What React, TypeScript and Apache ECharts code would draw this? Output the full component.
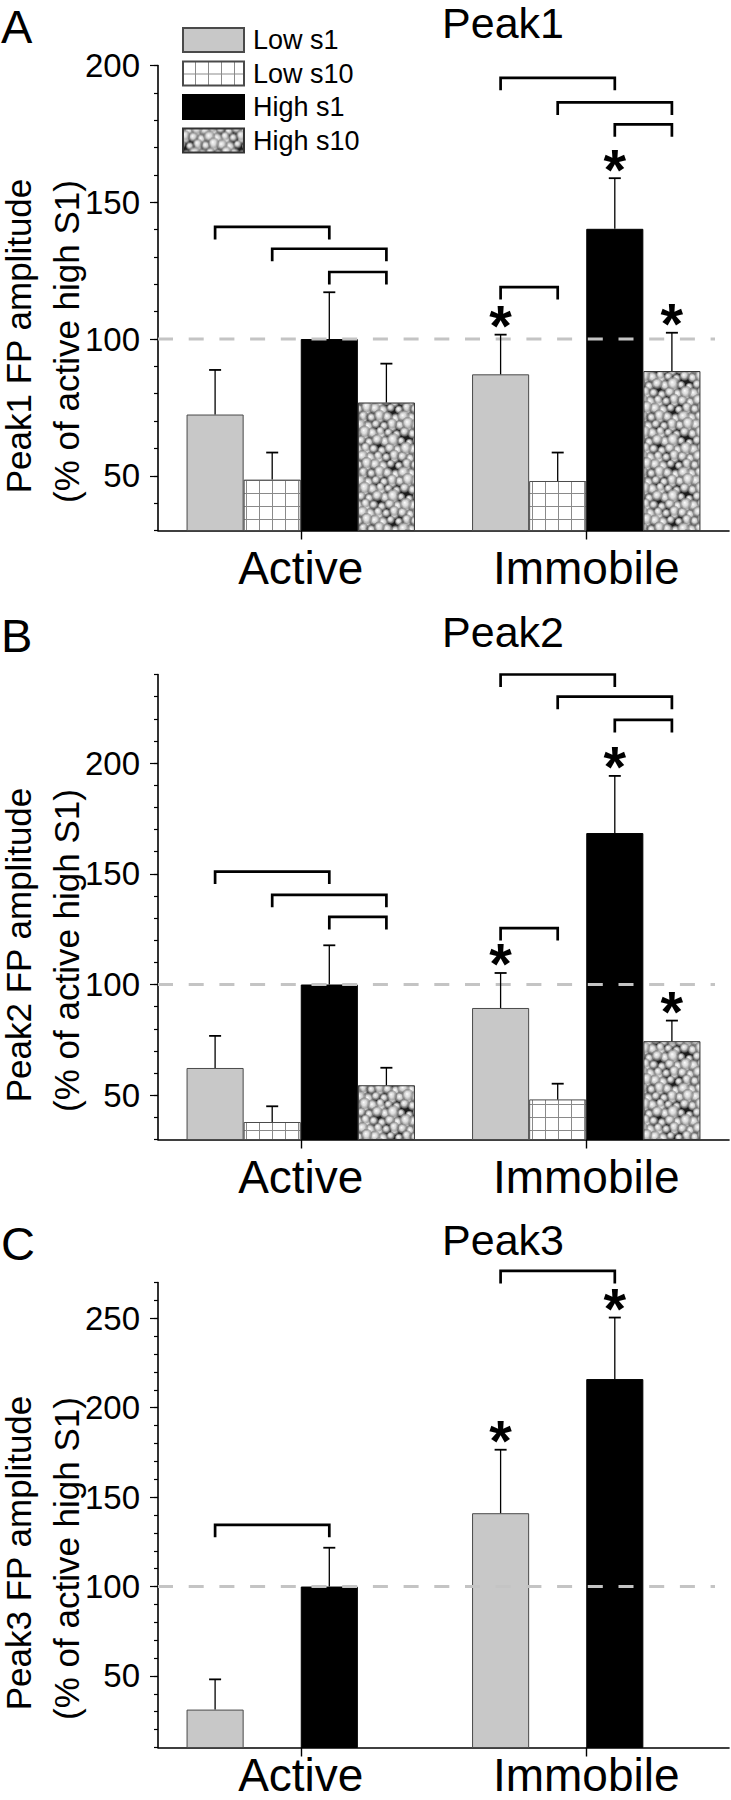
import React, { useEffect, useRef } from 'react';
import * as echarts from 'echarts';

const FONT = '"Liberation Sans", Arial, Helvetica, sans-serif';

const categories = ['Active', 'Immobile'];
const groupNames = ['Low s1', 'Low s10', 'High s1', 'High s10'];

// ---- Peak1 (panel A) ----
const peak1LowS1 = [72.4, 87.1];
const peak1LowS1Sem = [16.3, 14.5];
const peak1LowS10 = [48.6, 48.1];
const peak1LowS10Sem = [9.9, 10.4];
const peak1HighS1 = [100, 140.3];
const peak1HighS1Sem = [17.1, 18.5];
const peak1HighS10 = [76.8, 88.3];
const peak1HighS10Sem = [14.2, 14.0];
// [category, fromSlot, toSlot, bracket height]
const peak1Brackets = [[0, 0, 2, 141], [0, 1, 3, 133], [0, 2, 3, 124.5], [1, 0, 2, 195.5], [1, 1, 3, 186.5], [1, 2, 3, 178.5], [1, 0, 1, 119]];
const peak1Stars = [[1, 0], [1, 2], [1, 3]];
const peak1YRange = [30, 200];
const peak1YLabels = [50, 100, 150, 200];

// ---- Peak2 (panel B) ----
const peak2LowS1 = [62.3, 89.4];
const peak2LowS1Sem = [14.5, 15.8];
const peak2LowS10 = [37.9, 48.1];
const peak2LowS10Sem = [7.1, 7.1];
const peak2HighS1 = [100, 168.4];
const peak2HighS1Sem = [17.7, 25.8];
const peak2HighS10 = [54.5, 74.4];
const peak2HighS10Sem = [7.9, 9.3];
const peak2Brackets = [[0, 0, 2, 151], [0, 1, 3, 140.5], [0, 2, 3, 130.5], [1, 0, 2, 240], [1, 1, 3, 230], [1, 2, 3, 219.5], [1, 0, 1, 125.5]];
const peak2Stars = [[1, 0], [1, 2], [1, 3]];
const peak2YRange = [30, 240];
const peak2YLabels = [50, 100, 150, 200];

// ---- Peak3 (panel C) ----
const peak3LowS1 = [31.2, 141];
const peak3LowS1Sem = [16.9, 35.5];
const peak3LowS10 = [null, null];
const peak3LowS10Sem = [null, null];
const peak3HighS1 = [100, 216];
const peak3HighS1Sem = [21.7, 34.4];
const peak3HighS10 = [null, null];
const peak3HighS10Sem = [null, null];
const peak3Brackets = [[0, 0, 2, 134.5], [1, 0, 2, 276.5]];
const peak3Stars = [[1, 0], [1, 2]];
const peak3YRange = [10, 270];
const peak3YLabels = [50, 100, 150, 200, 250];

const referenceLevel = 100;

const panels = [
  {
    letter: 'A', title: 'Peak1', yTitle: 'Peak1 FP amplitude',
    means: [peak1LowS1, peak1LowS10, peak1HighS1, peak1HighS10],
    sems: [peak1LowS1Sem, peak1LowS10Sem, peak1HighS1Sem, peak1HighS10Sem],
    brackets: peak1Brackets, stars: peak1Stars, range: peak1YRange, labels: peak1YLabels,
    offset: 0, labelMargin: 14, labelLineHeight: 46,
  },
  {
    letter: 'B', title: 'Peak2', yTitle: 'Peak2 FP amplitude',
    means: [peak2LowS1, peak2LowS10, peak2HighS1, peak2HighS10],
    sems: [peak2LowS1Sem, peak2LowS10Sem, peak2HighS1Sem, peak2HighS10Sem],
    brackets: peak2Brackets, stars: peak2Stars, range: peak2YRange, labels: peak2YLabels,
    offset: 609, labelMargin: 14, labelLineHeight: 46,
  },
  {
    letter: 'C', title: 'Peak3', yTitle: 'Peak3 FP amplitude',
    means: [peak3LowS1, peak3LowS10, peak3HighS1, peak3HighS10],
    sems: [peak3LowS1Sem, peak3LowS10Sem, peak3HighS1Sem, peak3HighS10Sem],
    brackets: peak3Brackets, stars: peak3Stars, range: peak3YRange, labels: peak3YLabels,
    offset: 1217, labelMargin: 8, labelLineHeight: 38,
  },
];

function makeGridPattern() {
  const c = document.createElement('canvas');
  c.width = 13; c.height = 13;
  const g = c.getContext('2d')!;
  g.fillStyle = '#ffffff';
  g.fillRect(0, 0, 13, 13);
  g.fillStyle = '#8a8a8a';
  g.fillRect(12, 0, 1, 13);
  g.fillRect(0, 12, 13, 1);
  return c;
}

// bubbly texture, laid out with a low-discrepancy (R2) sequence
function makeBubblePattern() {
  const S = 56;
  const c = document.createElement('canvas');
  c.width = S; c.height = S;
  const g = c.getContext('2d')!;
  g.fillStyle = '#1c1c1c';
  g.fillRect(0, 0, S, S);
  const a1 = 0.7548776662, a2 = 0.5698402910;
  const n = 62;
  for (let i = 0; i < n; i++) {
    const px = ((0.5 + a1 * i) % 1) * S;
    const py = ((0.5 + a2 * i) % 1) * S;
    const r = 4.4 + ((i * 0.618034) % 1) * 2.4;
    for (let dx = -S; dx <= S; dx += S) {
      for (let dy = -S; dy <= S; dy += S) {
        const x = px + dx, y = py + dy;
        if (x < -r || x > S + r || y < -r || y > S + r) continue;
        const grd = g.createRadialGradient(x - 1, y - 1, 0, x, y, r);
        grd.addColorStop(0, 'rgba(255,255,255,1)');
        grd.addColorStop(0.45, 'rgba(222,222,222,0.9)');
        grd.addColorStop(0.8, 'rgba(140,140,140,0.6)');
        grd.addColorStop(1, 'rgba(70,70,70,0)');
        g.fillStyle = grd;
        g.beginPath();
        g.arc(x, y, r, 0, Math.PI * 2);
        g.fill();
      }
    }
  }
  return c;
}

export default function App() {
  const ref = useRef<HTMLDivElement>(null);

  useEffect(() => {
    if (!ref.current) return;
    const chart = echarts.init(ref.current, undefined, { renderer: 'svg' });

    const gridCanvas = makeGridPattern();
    const bubbleCanvas = makeBubblePattern();
    const styles = [
      { color: '#c8c8c8', borderColor: '#4a4a4a', borderWidth: 1 },
      { color: { image: gridCanvas, repeat: 'repeat', imageWidth: 13, imageHeight: 13 }, borderColor: '#4a4a4a', borderWidth: 1 },
      { color: '#000000', borderColor: '#000000', borderWidth: 1 },
      { color: { image: bubbleCanvas, repeat: 'repeat', imageWidth: 56, imageHeight: 56 }, borderColor: '#333333', borderWidth: 1 },
    ];

    const grids: any[] = [];
    const xAxes: any[] = [];
    const yAxes: any[] = [];
    const series: any[] = [];
    const graphics: any[] = [];

    panels.forEach((p, pi) => {
      const top = 65.5 + p.offset;
      grids.push({ left: 158, top, width: 571, height: 465, containLabel: false, outerBoundsMode: 'none' });
      xAxes.push({
        type: 'category', gridIndex: pi, data: categories,
        axisLine: { show: true, lineStyle: { color: '#000', width: 1.6 } },
        axisTick: { show: true, alignWithLabel: true, length: 9, lineStyle: { color: '#000', width: 1.4 } },
        axisLabel: { color: '#000', fontSize: 46, lineHeight: p.labelLineHeight, fontFamily: FONT, margin: p.labelMargin },
        splitLine: { show: false },
      });
      yAxes.push({
        type: 'value', gridIndex: pi, position: 'left', offset: 0,
        min: p.range[0], max: p.range[1], interval: 10,
        axisLine: { show: true, lineStyle: { color: '#000', width: 1.6 } },
        axisTick: { show: true, length: 4, lineStyle: { color: '#000', width: 1.2 } },
        axisLabel: { show: true, customValues: p.labels, color: '#000', fontSize: 33, fontFamily: FONT, margin: 18 },
        splitLine: { show: false },
      });
      yAxes.push({
        type: 'value', gridIndex: pi, position: 'left', offset: 0,
        min: p.range[0], max: p.range[1],
        axisLine: { show: false },
        axisTick: { show: true, length: 8, customValues: p.labels, lineStyle: { color: '#000', width: 1.2 } },
        axisLabel: { show: false },
        splitLine: { show: false },
      });
      const yi = pi * 2;

      groupNames.forEach((name, si) => {
        series.push({
          type: 'bar', name, xAxisIndex: pi, yAxisIndex: yi,
          data: p.means[si].map((v) => (v == null ? '-' : v)),
          barWidth: '20%', barGap: '0%',
          itemStyle: styles[si], z: 2,
          emphasis: { disabled: true },
        });
      });

      // dashed reference line at 100 %
      series.push({
        type: 'custom', xAxisIndex: pi, yAxisIndex: yi, z: 3, silent: true,
        data: [[0, referenceLevel]], encode: { x: 0, y: 1 },
        renderItem: (params: any, api: any) => {
          const cs = params.coordSys;
          const y = api.coord([0, api.value(1)])[1];
          return {
            type: 'line',
            shape: { x1: cs.x, y1: y, x2: cs.x + cs.width - 14, y2: y },
            style: { stroke: '#c4c4c4', lineWidth: 3, lineDash: [15, 15.7] },
          };
        },
      });

      // error bars
      const errData: any[] = [];
      p.means.forEach((arr, si) => {
        arr.forEach((m, ci) => {
          const s = p.sems[si][ci];
          if (m != null && s != null) errData.push([ci, m, s, si]);
        });
      });
      series.push({
        type: 'custom', xAxisIndex: pi, yAxisIndex: yi, z: 4, silent: true,
        data: errData, encode: { x: 0, y: 1 },
        renderItem: (params: any, api: any) => {
          const cat = api.value(0), mean = api.value(1), sem = api.value(2), slot = api.value(3);
          const bw = api.size([1, 0])[0] * 0.2;
          const base = api.coord([cat, mean]);
          const cx = base[0] + (slot - 1.5) * bw;
          const yt = api.coord([cat, mean + sem])[1];
          return {
            type: 'group',
            children: [
              { type: 'line', shape: { x1: cx, y1: base[1], x2: cx, y2: yt }, style: { stroke: '#000', lineWidth: 1.3 } },
              { type: 'line', shape: { x1: cx - 6, y1: yt, x2: cx + 6, y2: yt }, style: { stroke: '#000', lineWidth: 1.8 } },
            ],
          };
        },
      });

      // significance brackets
      series.push({
        type: 'custom', xAxisIndex: pi, yAxisIndex: yi, z: 4, silent: true,
        data: p.brackets, encode: { x: 0, y: 3 },
        renderItem: (params: any, api: any) => {
          const cat = api.value(0), from = api.value(1), to = api.value(2), h = api.value(3);
          const bw = api.size([1, 0])[0] * 0.2;
          const c = api.coord([cat, h]);
          const xa = c[0] + (from - 1.5) * bw;
          const xb = c[0] + (to - 1.5) * bw;
          const leg = 12.5;
          return {
            type: 'polyline',
            shape: { points: [[xa, c[1] + leg], [xa, c[1]], [xb, c[1]], [xb, c[1] + leg]] },
            style: { stroke: '#000', lineWidth: 2.7, fill: null },
          };
        },
      });

      // asterisks above error bars
      const starData = p.stars.map(([ci, si]) => [ci, si, (p.means[si][ci] as number) + (p.sems[si][ci] as number)]);
      series.push({
        type: 'custom', xAxisIndex: pi, yAxisIndex: yi, z: 4, silent: true,
        data: starData, encode: { x: 0, y: 2 },
        renderItem: (params: any, api: any) => {
          const cat = api.value(0), slot = api.value(1), topv = api.value(2);
          const bw = api.size([1, 0])[0] * 0.2;
          const c = api.coord([cat, topv]);
          return {
            type: 'text',
            x: c[0] + (slot - 1.5) * bw,
            y: c[1] - 9,
            style: {
              text: '*', fill: '#000', fontSize: 58, fontWeight: 'bold', fontFamily: FONT,
              align: 'center', verticalAlign: 'middle',
            },
          };
        },
      });

      // texts
      graphics.push({
        type: 'text', x: 1, y: 26.5 + p.offset,
        style: { text: p.letter, fill: '#000', fontSize: 47, fontFamily: FONT, align: 'left', verticalAlign: 'middle' },
      });
      graphics.push({
        type: 'text', x: 503, y: 22.5 + p.offset,
        style: { text: p.title, fill: '#000', fontSize: 43, fontFamily: FONT, align: 'center', verticalAlign: 'middle' },
      });
      graphics.push({
        type: 'text', x: 18.5, y: 336 + p.offset, rotation: Math.PI / 2,
        style: { text: p.yTitle, fill: '#000', fontSize: 35, fontFamily: FONT, align: 'center', verticalAlign: 'middle' },
      });
      graphics.push({
        type: 'text', x: 66, y: 341.5 + p.offset, rotation: Math.PI / 2,
        style: { text: '(% of active high S1)', fill: '#000', fontSize: 35, fontFamily: FONT, align: 'center', verticalAlign: 'middle' },
      });
    });

    chart.setOption({
      animation: false,
      backgroundColor: '#ffffff',
      textStyle: { fontFamily: FONT },
      grid: grids,
      xAxis: xAxes,
      yAxis: yAxes,
      legend: {
        data: groupNames, orient: 'vertical', left: 177, top: 21.5,
        itemWidth: 61, itemHeight: 24, itemGap: 6.5, icon: 'rect', selectedMode: false,
        textStyle: { fontSize: 27, color: '#000', fontFamily: FONT, lineHeight: 27, padding: [0, 0, 0, 4] },
      },
      graphic: graphics,
      series,
    });

    return () => chart.dispose();
  }, []);

  return (
    <div
      ref={ref}
      style={{ position: 'absolute', left: 0, top: 0, width: 731, height: 1800, background: '#fff' }}
    />
  );
}
